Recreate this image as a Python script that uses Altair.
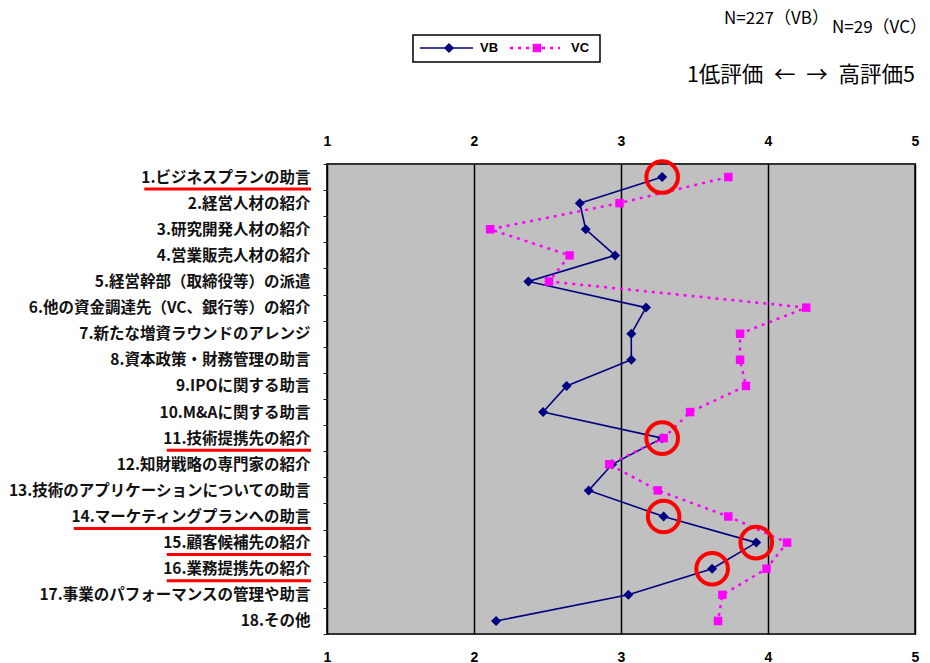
import altair as alt
import pandas as pd

# Support items (y categories), top to bottom
items = [
    "1.ビジネスプランの助言",
    "2.経営人材の紹介",
    "3.研究開発人材の紹介",
    "4.営業販売人材の紹介",
    "5.経営幹部（取締役等）の派遣",
    "6.他の資金調達先（VC、銀行等）の紹介",
    "7.新たな増資ラウンドのアレンジ",
    "8.資本政策・財務管理の助言",
    "9.IPOに関する助言",
    "10.M&Aに関する助言",
    "11.技術提携先の紹介",
    "12.知財戦略の専門家の紹介",
    "13.技術のアプリケーションについての助言",
    "14.マーケティングプランへの助言",
    "15.顧客候補先の紹介",
    "16.業務提携先の紹介",
    "17.事業のパフォーマンスの管理や助言",
    "18.その他",
]

# Mean ratings (1 = low, 5 = high)
vb_scores = [3.28, 2.72, 2.76, 2.96, 2.37, 3.17, 3.07, 3.07, 2.63, 2.47,
             3.28, 2.94, 2.78, 3.29, 3.92, 3.62, 3.05, 2.15]
vc_scores = [3.73, 2.99, 2.11, 2.65, 2.51, 4.26, 3.81, 3.81, 3.85, 3.47,
             3.29, 2.92, 3.25, 3.73, 4.13, 3.99, 3.69, 3.66]

# Items emphasised with a red circle and underline
highlighted = [1, 11, 14, 15, 16]

tick_values = [1, 2, 3, 4, 5]
series_names = ["VB", "VC"]
sample_notes = ["N=227（VB）", "N=29（VC）"]
scale_note = "1低評価\u2002←\u2002→\u2002高評価5"

NAVY = "#000080"
MAGENTA = "#FF00FF"
RED = "#FF0000"
LABEL_FS = 15.5
LABEL_RIGHT = -17  # right edge of the item labels, relative to the plot


def text_width(s, fs):
    w = 0.0
    for ch in s:
        if ord(ch) > 0x2000:
            w += 1.0
        elif ch.isdigit():
            w += 0.55
        elif ch == ".":
            w += 0.27
        else:
            w += 0.65
    return w * fs


df = pd.DataFrame({
    "item": items,
    "VB": vb_scores,
    "VC": vc_scores,
    "idx": list(range(1, len(items) + 1)),
})
df["ul_x"] = [LABEL_RIGHT - text_width(s, LABEL_FS) + 2 for s in items]
df["ul_x2"] = LABEL_RIGHT + 1
hl = df[df["idx"].isin(highlighted)]

x_scale = alt.Scale(domain=[1, 5], nice=False, zero=False)
y_scale = alt.Scale(type="band", domain=items, paddingInner=0, paddingOuter=0)

y_axis = alt.Axis(
    orient="left", title=None, domain=False, tickBand="extent", tickSize=4,
    tickColor="#222", labelPadding=13, labelFont="Noto Sans CJK JP",
    labelFontSize=LABEL_FS, labelFontWeight="bold", labelColor="#111",
    labelLimit=500,
)


def x_axis(orient, grid):
    return alt.Axis(
        orient=orient, values=tick_values, format="d", title=None,
        tickSize=0, labelPadding=16, domain=False, labelFlush=False,
        grid=grid, gridColor="black", gridWidth=1.5, gridOpacity=1,
        labelFont="Liberation Sans", labelFontWeight="bold",
        labelFontSize=14, labelColor="black",
    )


# every layer that uses the item scale carries the same axis so they merge
Y = alt.Y("item:N", sort=items, scale=y_scale, axis=y_axis)
Y_under = alt.Y("item:N", sort=items, scale=y_scale, axis=y_axis, bandPosition=0.96)

base = alt.Chart(df)

vb_line = base.mark_line(color=NAVY, strokeWidth=1.6).encode(
    x=alt.X("VB:Q", scale=x_scale, axis=x_axis("bottom", True)),
    y=Y,
    order="idx:Q",
)
top_axis = base.mark_point(opacity=0).encode(
    x=alt.X("VB:Q", scale=x_scale, axis=x_axis("top", False)),
    y=Y,
)
vb_pts = base.mark_point(shape="diamond", filled=True, size=100, color=NAVY, opacity=1).encode(
    x=alt.X("VB:Q", scale=x_scale, axis=None),
    y=Y,
)
vc_line = base.mark_line(color=MAGENTA, strokeWidth=2.5, strokeDash=[3, 5]).encode(
    x=alt.X("VC:Q", scale=x_scale, axis=None),
    y=Y,
    order="idx:Q",
)
vc_pts = base.mark_point(shape="square", filled=True, size=72, color=MAGENTA, opacity=1).encode(
    x=alt.X("VC:Q", scale=x_scale, axis=None),
    y=Y,
)

circles = alt.Chart(hl).mark_point(
    shape="circle", filled=False, size=1000, strokeWidth=4, color=RED, opacity=1
).encode(
    x=alt.X("VB:Q", scale=x_scale, axis=None),
    y=Y,
)
underlines = alt.Chart(hl).mark_rule(color=RED, strokeWidth=3).encode(
    x=alt.X("ul_x:Q", scale=None, axis=None),
    x2="ul_x2:Q",
    y=Y_under,
)

# Legend box
legend_df = pd.DataFrame({
    "series": series_names,
    "lx": [93, 183], "lx2": [146, 233], "mx": [122, 210], "tx": [153, 244],
})
box = alt.Chart(pd.DataFrame({"box": ["legend"]})).mark_rect(
    fill="white", stroke="black", strokeWidth=1.5
).encode(x=alt.value(86), x2=alt.value(273), y=alt.value(-129), y2=alt.value(-102))

leg_vb = legend_df[legend_df.series == "VB"]
leg_vc = legend_df[legend_df.series == "VC"]
leg_line_vb = alt.Chart(leg_vb).mark_rule(color=NAVY, strokeWidth=1.6).encode(
    x=alt.X("lx:Q", scale=None, axis=None), x2="lx2:Q", y=alt.value(-116))
leg_line_vc = alt.Chart(leg_vc).mark_rule(color=MAGENTA, strokeWidth=2.5, strokeDash=[3, 5]).encode(
    x=alt.X("lx:Q", scale=None, axis=None), x2="lx2:Q", y=alt.value(-116))
leg_pt_vb = alt.Chart(leg_vb).mark_point(shape="diamond", filled=True, size=100, color=NAVY, opacity=1).encode(
    x=alt.X("mx:Q", scale=None, axis=None), y=alt.value(-116))
leg_pt_vc = alt.Chart(leg_vc).mark_point(shape="square", filled=True, size=72, color=MAGENTA, opacity=1).encode(
    x=alt.X("mx:Q", scale=None, axis=None), y=alt.value(-116))
leg_text = alt.Chart(legend_df).mark_text(
    align="left", baseline="middle", font="Liberation Sans", fontWeight="bold",
    fontSize=13, color="black",
).encode(x=alt.X("tx:Q", scale=None, axis=None), y=alt.value(-116), text="series:N")

# Sample sizes and rating direction note
note_font = dict(font="Noto Sans CJK JP", color="black", align="right", baseline="alphabetic")
n_vb = alt.Chart(pd.DataFrame({"t": [sample_notes[0]]})).mark_text(fontSize=17, **note_font).encode(
    x=alt.value(502), y=alt.value(-140), text="t:N")
n_vc = alt.Chart(pd.DataFrame({"t": [sample_notes[1]]})).mark_text(fontSize=17, **note_font).encode(
    x=alt.value(600), y=alt.value(-131), text="t:N")
scale_txt = alt.Chart(pd.DataFrame({"t": [scale_note]})).mark_text(fontSize=21.5, **note_font).encode(
    x=alt.value(588), y=alt.value(-82), text="t:N")

chart = alt.layer(
    vb_line, top_axis, vb_pts, vc_line, vc_pts, circles, underlines,
    box, leg_line_vb, leg_line_vc, leg_pt_vb, leg_pt_vc, leg_text,
    n_vb, n_vc, scale_txt,
).resolve_axis(x="independent").properties(
    width=588, height=470,
    autosize=alt.AutoSizeParams(type="none"),
    padding={"left": 327, "top": 164, "right": 15, "bottom": 29},
    background="white",
).configure_view(
    fill="#C0C0C0", stroke="#333333", strokeWidth=2,
)

chart.save("out.html", embed_options={"renderer": "svg", "actions": False})
